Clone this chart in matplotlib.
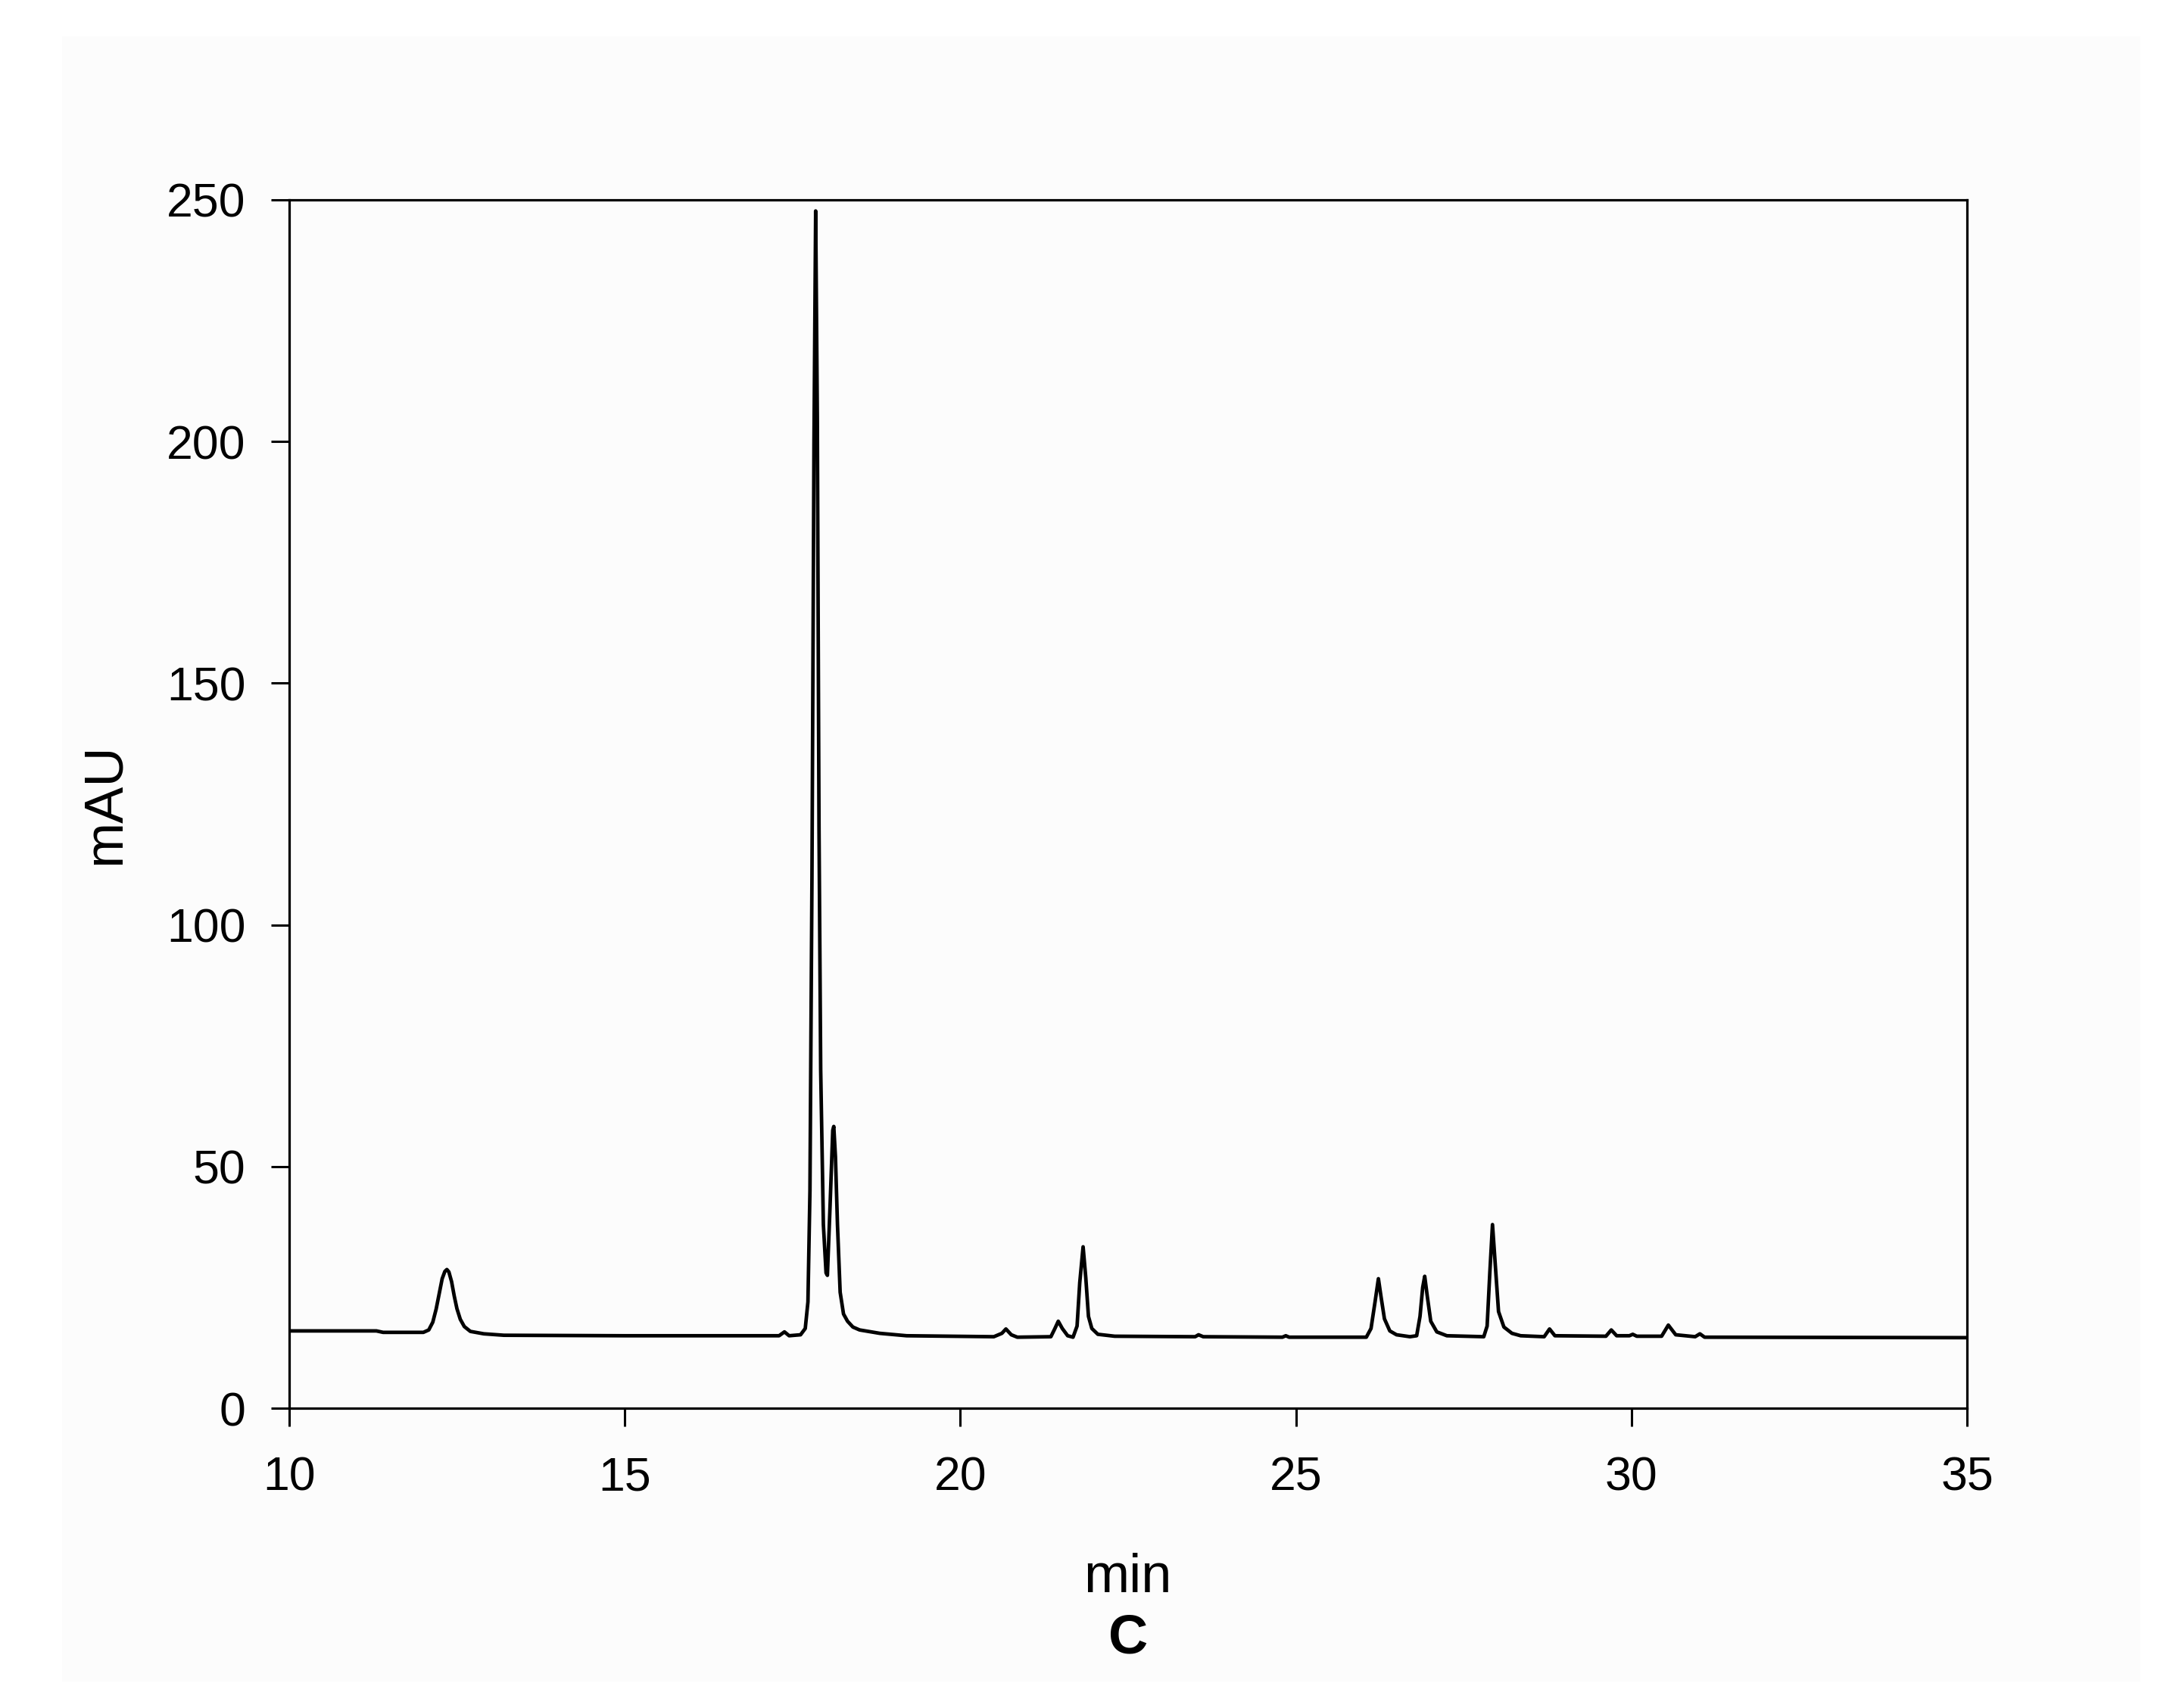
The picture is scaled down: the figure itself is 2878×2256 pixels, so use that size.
import matplotlib
matplotlib.use("Agg")
import matplotlib.pyplot as plt
from matplotlib.patches import Rectangle

plt.rcParams['font.family'] = ['Liberation Sans', 'DejaVu Sans']

# chromatogram trace (retention time in min, signal in mAU)
time_min = [10.0, 11.3, 11.4, 12.0, 12.08, 12.14, 12.19, 12.24, 12.28, 12.32, 12.35, 12.38,
            12.42, 12.46, 12.50, 12.55, 12.61, 12.70, 12.9, 13.2, 15.0, 17.3, 17.38, 17.45,
            17.62, 17.69, 17.73, 17.76, 17.79, 17.82, 17.845, 17.87, 17.895, 17.92, 17.96,
            18.00, 18.02, 18.06, 18.10, 18.115, 18.14, 18.17, 18.21, 18.26, 18.32, 18.40,
            18.50, 18.80, 19.2, 20.5, 20.62, 20.68, 20.76, 20.85, 21.35, 21.41, 21.46, 21.52,
            21.60, 21.68, 21.74, 21.78, 21.83, 21.87, 21.91, 21.96, 22.05, 22.3, 23.5, 23.55,
            23.62, 24.8, 24.85, 24.9, 26.05, 26.12, 26.18, 26.23, 26.27, 26.32, 26.40, 26.50,
            26.70, 26.80, 26.85, 26.89, 26.92, 26.96, 27.01, 27.10, 27.25, 27.80, 27.85,
            27.89, 27.93, 27.97, 28.02, 28.10, 28.22, 28.35, 28.70, 28.78, 28.86, 29.62,
            29.70, 29.78, 29.97, 30.02, 30.08, 30.45, 30.55, 30.66, 30.95, 31.02, 31.09, 35.0]
signal_mau = [16.0, 16.0, 15.7, 15.7, 16.2, 17.8, 20.5, 24.0, 26.8, 28.3, 28.7, 28.2,
              26.2, 23.2, 20.6, 18.4, 16.9, 15.9, 15.4, 15.1, 15.0, 15.0, 15.8, 15.0,
              15.2, 16.5, 22.0, 45.0, 110.0, 200.0, 247.7, 205.0, 120.0, 70.0, 38.0,
              28.0, 27.5, 42.0, 57.5, 58.3, 52.0, 38.0, 24.0, 19.5, 18.0, 16.8,
              16.2, 15.5, 15.0, 14.8, 15.5, 16.4, 15.2, 14.7, 14.8, 16.5, 18.0, 16.5,
              15.0, 14.7, 17.0, 26.0, 33.4, 27.0, 19.0, 16.5, 15.3, 14.9, 14.8, 15.2,
              14.8, 14.7, 15.0, 14.7, 14.7, 16.5, 22.0, 26.8, 23.0, 18.5, 16.0, 15.2,
              14.8, 15.0, 19.0, 25.0, 27.3, 23.0, 18.0, 15.8, 15.0, 14.8, 17.0,
              28.0, 38.0, 30.0, 20.0, 16.8, 15.5, 15.0, 14.8, 16.4, 15.0, 14.9,
              16.2, 15.0, 15.0, 15.3, 14.9, 14.9, 17.2, 15.2, 14.8, 15.4, 14.7, 14.6]

x_ticks = [10, 15, 20, 25, 30, 35]
y_ticks = [0, 50, 100, 150, 200, 250]

fig = plt.figure(figsize=(14.39, 11.28), dpi=200)

# faint scanned page background
fig.patches.append(Rectangle((82 / 2878, 1 - 2221 / 2256), (2827 - 82) / 2878, (2221 - 48) / 2256,
                             transform=fig.transFigure, facecolor='#fcfcfc', edgecolor='none', zorder=-10))

ax = fig.add_axes([0.1327, 0.1755, 0.7700, 0.7075])
ax.set_facecolor('none')
ax.plot(time_min, signal_mau, color='black', linewidth=1.7, solid_joinstyle='round')

ax.set_xlim(10, 35)
ax.set_ylim(0, 250)
ax.set_xticks(x_ticks)
ax.set_yticks(y_ticks)
ax.tick_params(direction='out', length=8.6, width=1.1, labelsize=22.5, pad=12)
ax.tick_params(axis='x', pad=14)
for s in ax.spines.values():
    s.set_linewidth(1.15)

ax.set_xlabel('min', fontsize=26, labelpad=25)
ax.set_ylabel('mAU', fontsize=26, labelpad=17)
fig.text(0.5177, 1 - 2165 / 2256, 'C', fontsize=26, fontweight='bold', ha='center', va='center')

fig.savefig('out.png', dpi=200)
